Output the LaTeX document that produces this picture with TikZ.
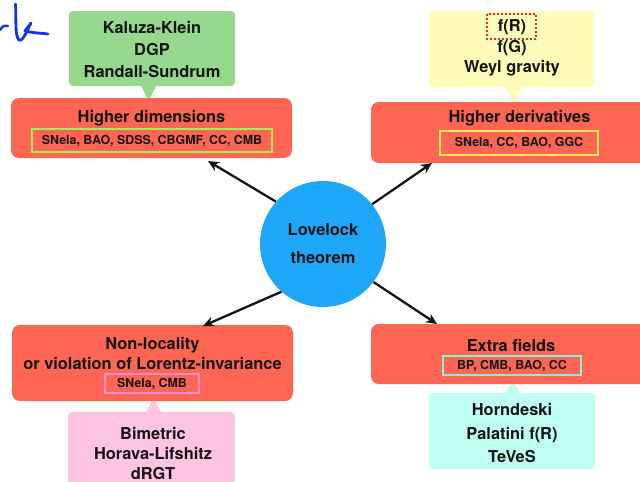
\documentclass[tikz,border=0pt]{standalone}
\usepackage{fontspec}
\setmainfont{TeX Gyre Heros}
\usetikzlibrary{arrows.meta}
\definecolor{boxred}{HTML}{FF6553}
\definecolor{kkgreen}{HTML}{97D88F}
\definecolor{fryellow}{HTML}{FFFBB8}
\definecolor{bimpink}{HTML}{FFC4E2}
\definecolor{horncyan}{HTML}{BEFFF2}
\definecolor{circblue}{HTML}{1EA6F9}
\definecolor{limeline}{HTML}{A6EC5A}
\definecolor{yelline}{HTML}{FFEC55}
\definecolor{pinkline}{HTML}{FF8CCB}
\definecolor{cyanline}{HTML}{86EEDD}
\definecolor{dotred}{HTML}{F42424}
\definecolor{scribble}{HTML}{1733E6}
\definecolor{txt}{HTML}{141414}
\begin{document}
\begin{tikzpicture}[x=1pt,y=-1pt,
  redbox/.style={fill=boxred, rounded corners=8pt, inner sep=0pt},
  callout/.style={rounded corners=4pt, inner sep=0pt},
  tag/.style={draw, line width=2pt, inner sep=0pt, text=txt, font=\fontsize{12.4}{14}\bfseries},
  big/.style={text=txt, align=center, inner sep=0pt, font=\fontsize{16.4}{22}\bfseries},
  arr/.style={-{Stealth[length=11pt,width=10pt]}, line width=2.3pt, txt}
]
\clip (0,0) rectangle (640,482);
% scribble
\draw[scribble, line width=2.8pt, line cap=round, line join=round]
  (15.5,4) .. controls (16.5,20) and (14.5,35) .. (19,40)
  .. controls (23,42) and (27,30) .. (31,23) -- (25,31)
  .. controls (32,33) and (40,33) .. (48,34);
\draw[scribble, line width=2.4pt, line cap=round]
  (0,30) .. controls (3,25) and (6,25) .. (8,26);
% callouts with pointers
\fill[kkgreen] (140,84) -- (157,84) -- (148.5,101) -- cycle;
\node[callout, fill=kkgreen, minimum width=166pt, minimum height=75pt] (kk) at (152,48.5) {};
\node[big, font=\fontsize{16.4}{22}\bfseries] (kkt) at (152,49) {Kaluza-Klein\\DGP\\Randall-Sundrum};

\fill[fryellow] (505,85) -- (522,85) -- (513.5,104) -- cycle;
\node[callout, fill=fryellow, minimum width=165pt, minimum height=76pt] (fr) at (511.5,49) {};
\node[big, font=\fontsize{16.4}{20.5}\bfseries] (frt) at (512,48) {f(R)\\f(G)\\Weyl gravity};
\draw[dotred, line width=2pt, dash pattern=on 2pt off 2pt] (487,14) rectangle (536,39);
\coordinate (frbox) at (511.5,26.5);

\fill[bimpink] (145,414) -- (162,414) -- (153.5,398) -- cycle;
\node[callout, fill=bimpink, minimum width=167pt, minimum height=80pt] (bim) at (151.5,452) {};
\node[big, font=\fontsize{16.4}{20}\bfseries] (bimt) at (153,453) {Bimetric\\Horava-Lifshitz\\dRGT};

\fill[horncyan] (504,395) -- (521,395) -- (512.5,380) -- cycle;
\node[callout, fill=horncyan, minimum width=166pt, minimum height=76pt] (horn) at (512,431) {};
\node[big, font=\fontsize{16.4}{23.5}\bfseries] (hornt) at (512,433) {Horndeski\\Palatini f(R)\\TeVeS};

% red boxes
\node[redbox, minimum width=281pt, minimum height=60pt] (hdim) at (151.5,128) {};
\node[big] (hdimt) at (151.5,118) {Higher dimensions};
\node[tag, draw=limeline, minimum width=240pt, minimum height=23pt] (hdimtag) at (152,140.5) {SNela, BAO, SDSS, CBGMF, CC, CMB};

\node[redbox, minimum width=279pt, minimum height=61pt] (hder) at (510.5,132.5) {};
\node[big] (hdert) at (519.5,118) {Higher derivatives};
\node[tag, draw=yelline, minimum width=158pt, minimum height=24pt] (hdertag) at (519,143) {SNela, CC, BAO, GGC};

\node[redbox, minimum width=281pt, minimum height=76pt] (nonloc) at (152.5,363) {};
\node[big, font=\fontsize{16.4}{20}\bfseries] (nonloct) at (152.5,353) {Non-locality\\or violation of Lorentz-invariance};
\node[tag, draw=pinkline, minimum width=94pt, minimum height=19pt] (nonloctag) at (152,383.5) {SNela, CMB};

\node[redbox, minimum width=279pt, minimum height=60pt] (extra) at (510.5,354) {};
\node[big] (extrat) at (511,345) {Extra fields};
\node[tag, draw=cyanline, minimum width=138pt, minimum height=19pt] (extratag) at (512,365.5) {BP, CMB, BAO, CC};

% centre
\node[circle, fill=circblue, minimum size=126pt, inner sep=0pt, text=txt, align=center,
      font=\fontsize{16.4}{28}\bfseries] (lov) at (323,244) {Lovelock\\theorem};

% arrows
\coordinate (a1) at (208,161);
\coordinate (a2) at (432,163);
\coordinate (a3) at (203,326);
\coordinate (a4) at (437,324);
\draw[arr] (lov.138) -- (a1);
\draw[arr] (lov.39) -- (a2);
\draw[arr] (lov.229) -- (a3);
\draw[arr] (lov.-37) -- (a4);
\end{tikzpicture}
\end{document}
